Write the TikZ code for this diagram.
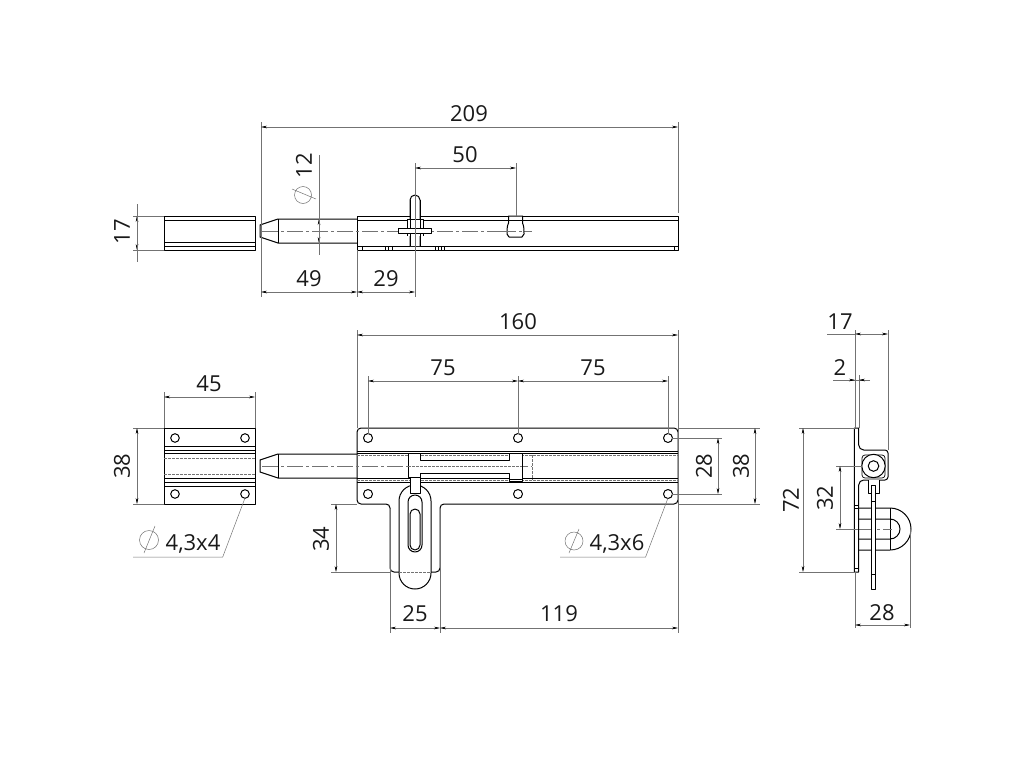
\documentclass[tikz,border=0pt]{standalone}
\usepackage{fontspec}
\setmainfont{Open Sans}
\usetikzlibrary{arrows.meta}
\definecolor{dimgray}{gray}{0.45}
\tikzset{
	part/.style={line width=1pt, black, line join=round},
	thinpart/.style={line width=0.7pt, black},
	extline/.style={line width=0.5pt, dimgray},
	dimline/.style={line width=0.5pt, dimgray, {Stealth[length=6pt,width=2.6pt,black]}-{Stealth[length=6pt,width=2.6pt,black]}},
	axisline/.style={line width=0.5pt, dimgray, dash pattern=on 16pt off 3pt on 3pt off 3pt},
	hiddenline/.style={line width=0.5pt, dimgray, dash pattern=on 2.5pt off 1.5pt},
	dimtext/.style={font=\fontsize{22}{22}\selectfont, inner sep=0pt, text=black!90}
}
\begin{document}
\begin{tikzpicture}[x=1pt, y=-1pt]
	\useasboundingbox (0,0) rectangle (1024,768);

	%top view, receiver
	\draw[part] (164,216) rectangle (255,250);
	\foreach \y in {220, 242, 246}{
		\draw[thinpart] (164,\y)--(255,\y);
	}
	%top view, bolt
	\draw[part] (357,219)--(278,219)--(260,225)--(260,237)--(278,243)--(357,243);
	\draw[part] (278,219)--(278,243);
	%top view, body
	\draw[part] (357,216) rectangle (678,250);
	\foreach \y in {220, 246}{
		\draw[thinpart] (357,\y)--(678,\y);
	}
	\foreach \x in {362, 385, 388, 392, 435, 438, 441, 444, 674}{
		\draw[thinpart] (\x,246)--(\x,250);
	}
	\draw[axisline] (262,231)--(532,231);
	%top view, knob
	\draw[part, fill=white] (410,246)--(410,200) arc (180:360:5)--(420,246);
	\draw[part, fill=white] (407,236)--(407,219)--(423,219)--(423,236);
	\draw[thinpart] (410,200)--(410,246) (420,200)--(420,246);
	\draw[part, fill=white] (398,228) rectangle (431,233);
	%top view, pin
	\draw[part, fill=white] (508.5,216)--(508.5,223)..controls (507,226) and (507,230) .. (507,234)--(509,237)--(522,237)--(524,234)..controls (524,230) and (524,226) .. (522.5,223)--(522.5,216)--cycle;
	\draw[thinpart] (508.5,220)--(522.5,220);
	\draw[axisline] (500,231)--(532,231);

	%bottom view, receiver
	\draw[part] (164,428) rectangle (255,504);
	\foreach \y in {446, 450, 482, 486}{
		\draw[part] (164,\y)--(255,\y);
	}
	\foreach \y in {453.5, 478}{
		\draw[thinpart] (164,\y)--(255,\y);
	}
	\foreach \y in {458, 474}{
		\draw[hiddenline] (164,\y)--(255,\y);
	}
	\foreach \x/\y in {175/438, 245/438, 175/494, 245/494}{
		\draw[part] (\x,\y) circle (4.3);
	}
	%bottom view, bolt
	\draw[part] (357,454)--(278,454)--(260,460)--(260,472)--(278,478)--(357,478);
	\draw[part] (278,454)--(278,478);

	%bottom view, plate with tab
	\draw[part, rounded corners=4pt] (357,428)--(678,428)--(678,504)--(440,504)--(440,572)--(390,572)--(390,504)--(357,504)--cycle;
	\foreach \x in {368, 518, 668}{
		\foreach \y in {438, 494}{
			\draw[part] (\x,\y) circle (4.5);
		}
	}
	\foreach \y in {451, 453, 478, 482}{
		\draw[thinpart] (357,\y)--(678,\y);
	}
	\foreach \y in {455, 480}{
		\draw[hiddenline] (357,\y)--(678,\y);
	}
	\draw[hiddenline] (532,455)--(532,480);
	\draw[axisline] (262,466)--(532,466);
	%bottom view, slide
	\draw[part, fill=white] (408,453)--(420,453)--(420,460)--(509,460)--(509,453)--(522,453)--(522,481)--(509,481)--(509,473)--(420,473)--(420,477)--(408,477)--cycle;
	\draw[hiddenline] (408,466)--(522,466);
	\draw[line width=1.8pt] (509,479.5)--(522,479.5);
	%bottom view, hasp
	\draw[part, fill=white] (399,501) arc (180:360:16)--(431,573) arc (0:180:16)--cycle;
	\draw[hiddenline] (399,572)--(431,572);
	\draw[part, fill=white] (410,477) rectangle (420,493);
	\draw[part] (408,502) arc (180:360:7)--(422,545) arc (0:180:7)--cycle;
	\draw[part] (410,514) arc (180:360:5)--(420,545) arc (0:180:5)--cycle;

	%side view, staple
	\draw[part] (858,508)--(890,508) arc (-90:90:21)--(858,550);
	\draw[part] (858,519)--(890,519) arc (-90:90:10)--(858,539);
	\draw[thinpart] (890,508)--(890,550);
	\draw[axisline] (858,529)--(892,529);
	%side view, plate
	\draw[part, fill=white] (858.7,428)--(858.7,445) arc (180:90:5)--(885,450) arc (-90:0:3)--(888,477) arc (0:90:3)--(863.7,480) arc (270:180:5)--(858.7,572)--(854.3,572)--(854.3,428)--cycle;
	\foreach \y in {505, 508, 568}{
		\draw[thinpart] (854.3,\y)--(858.7,\y);
	}
	\draw[thinpart, rounded corners=3pt] (862,455) rectangle (885,478);
	\draw[part, fill=white] (873.5,466) circle (11.7);
	\draw[part] (873.5,466) circle (5.3);
	%side view, hasp
	\draw[part, fill=white] (868,480)--(868,493)--(879,493)--(879,480);
	\draw[part, fill=white] (871,485) rectangle (875.7,589);
	\foreach \y in {501, 574}{
		\draw[thinpart] (871,\y)--(875.7,\y);
	}

	%extension lines
	\foreach \xa/\ya/\xb/\yb in {
		261/122/261/297, 678/122/678/213, 415/163/415/297, 516/163/516/216, 357/250/357/297,
		133/216/164/216, 133/250/164/250,
		164/392/164/428, 255/392/255/428, 133/428/164/428, 133/504/164/504,
		357/330/357/428, 678/330/678/633, 368/376/368/434, 518/376/518/434, 668/376/668/434,
		672/438/722/438, 672/494/722/494, 678/428/760/428, 678/504/760/504,
		331/504/357/504, 331/572/390/572, 390/509/390/633, 440/509/440/633,
		855/330/855/428, 888/330/888/450, 859/375/859/428,
		799/428/855/428, 799/572/855/572, 836/466/862/466, 836/529/858/529,
		855/572/855/628, 910/529/910/628}{
		\draw[extline] (\xa,\ya)--(\xb,\yb);
	}
	%dimension lines
	\foreach \xa/\ya/\xb/\yb in {
		261/127/678/127, 415/168/516/168, 261/292/357/292, 357/292/415/292, 319/219/319/243, 137/216/137/250,
		164/397/255/397, 137/428/137/504, 357/335/678/335, 368/381/518/381, 518/381/668/381,
		718/438/718/494, 755/428/755/504, 336/504/336/572, 390/628/440/628, 440/628/678/628,
		855/334/888/334, 803/428/803/572, 840/466/840/529, 855/625/910/625}{
		\draw[dimline] (\xa,\ya)--(\xb,\yb);
	}
	\draw[extline] (319,155)--(319,255) (137,204)--(137,262) (827,334)--(855,334) (833,380)--(870,380);
	\draw[extline, -{Stealth[length=6pt,width=2.6pt,black]}] (833,380)--(855,380);
	\draw[extline, -{Stealth[length=6pt,width=2.6pt,black]}] (870,380)--(859,380);
	%leaders
	\draw[extline] (245,498)--(222.7,557)--(133,557);
	\draw[extline] (668,498)--(645.6,557)--(560,557);
	%diameter signs
	\draw[extline] (303,195) circle (8.5) (292,189)--(316,199);
	\draw[extline] (149,540) circle (9.5) (144,553)--(155,526);
	\draw[extline] (574,541) circle (9) (569,553)--(579,529);

	%labels
	\foreach \x/\y/\t/\n in {
		469/114/209/a, 465/155/50/b, 309/279/49/c, 386/279/29/d,
		209/384/45/e, 518/322/160/f, 443/368/75/g, 593/368/75/h,
		415/614/25/i, 559/614/119/j, 840/322/17/k, 840/368/2/l, 882/613/28/m}{
		\node[dimtext] (label\n) at (\x,\y) {\t};
	}
	\foreach \x/\y/\t/\n in {
		122/232/17/a, 304/166/12/b, 122/466/38/c, 704/466/28/d, 741/466/38/e,
		321/539/34/f, 791/500/72/g, 825/498/32/h}{
		\node[dimtext, rotate=90] (vlabel\n) at (\x,\y) {\t};
	}
	\node[dimtext] (holesa) at (193,544) {4,3x4};
	\node[dimtext] (holesb) at (617,544) {4,3x6};
\end{tikzpicture}
\end{document}
